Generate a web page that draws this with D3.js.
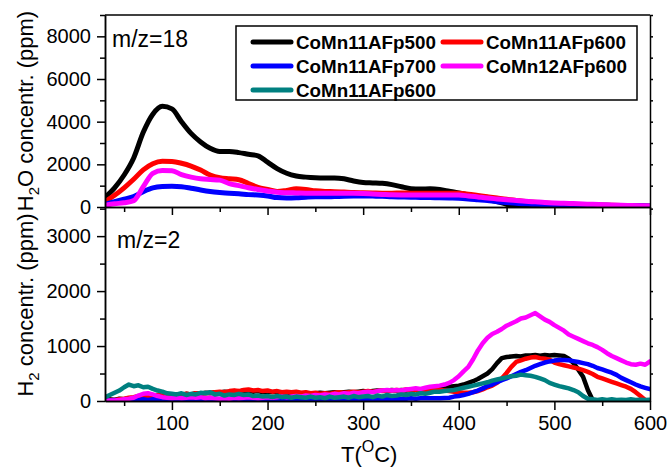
<!DOCTYPE html>
<html><head><meta charset="utf-8">
<script src="https://cdn.jsdelivr.net/npm/d3@7"></script>
<style>
html,body{margin:0;padding:0;background:#fff;}
svg{display:block;font-family:"Liberation Sans",Arial,sans-serif;}
</style></head>
<body>
<svg id="chart" width="668" height="467"></svg>
<script>
// ---------- data ----------
const seriesNames = ["CoMn11AFp500","CoMn11AFp600","CoMn11AFp700","CoMn12AFp600","CoMn11AFp600"];
const seriesColors = ["#000000","#ff0000","#0000ff","#ff00ff","#008080"];

// H2O (m/z=18), temperatures in °C
const tempTop = [30,40,50,60,70,80,90,100,110,120,130,140,150,160,170,180,190,200,210,220,230,240,250,260,270,280,290,300,310,320,330,340,350,360,370,380,390,400,410,420,430,440,450,460,470,480,490,500,510,520,530,540,550,560,570,580,590,600];
const h2oP500 = [450,900,1500,2300,3500,4350,4720,4600,4000,3450,3050,2750,2600,2600,2550,2470,2400,2100,1800,1580,1450,1400,1370,1360,1360,1320,1220,1150,1130,1110,1050,950,860,840,850,820,740,660,560,450,350,250,130,30,0,0,0,0,0,0,0,0,0,0,0,0,0,0];
const h2oP600 = [250,550,900,1300,1740,2030,2140,2130,2050,1920,1730,1500,1370,1320,1280,1100,920,820,730,780,850,820,760,730,720,700,680,670,660,650,650,660,650,650,650,640,650,640,600,540,480,420,360,310,260,220,190,160,140,120,110,100,90,80,70,60,55,50];
const h2oP700 = [130,250,370,490,720,900,960,970,950,880,800,730,680,640,620,580,560,520,440,420,430,460,480,480,490,500,510,520,510,500,480,470,460,450,440,430,420,410,380,340,300,250,210,170,150,130,120,110,100,95,90,85,80,75,70,60,55,50];
const h2o12P600 = [80,150,200,300,950,1580,1710,1700,1520,1400,1320,1290,1260,1100,1000,900,820,750,690,670,660,650,650,650,645,640,640,630,610,590,570,565,565,565,565,565,565,560,520,470,420,380,340,300,270,240,210,190,175,160,140,125,110,95,80,70,60,50];
const topSeries = [h2oP500, h2oP600, h2oP700, h2o12P600];

// H2 (m/z=2)
const tempBot = [30,35,40,45,50,55,60,65,70,75,80,85,90,95,
 100,105,110,115,120,125,130,135,140,145,150,155,160,165,170,175,180,185,190,195,
 200,205,210,215,220,225,230,235,240,245,250,255,260,265,270,275,280,285,290,295,
 300,305,310,315,320,325,330,335,340,345,350,355,360,365,370,375,380,385,390,395,
 400,405,410,415,420,425,430,435,440,445,450,455,460,465,470,475,480,485,490,495,
 500,505,510,515,520,525,530,535,540,545,550,555,560,565,570,575,580,585,590,595,600];
const h2P500 = [20,30,20,40,30,50,40,60,50,70,60,80,90,100,
 110,120,110,130,120,140,130,150,140,160,150,170,160,180,170,190,180,170,180,160,
 170,160,170,150,160,140,150,130,140,130,140,150,140,150,160,150,160,170,160,170,
 180,170,180,190,180,190,200,190,200,190,200,210,200,210,220,210,220,240,260,270,
 280,300,330,360,400,450,500,580,690,780,800,810,820,810,830,830,835,825,835,830,
 835,830,820,770,690,570,440,200,20,0,0,0,0,0,0,0,0,0,0,0,0];
const h2P600 = [10,20,20,30,40,60,70,90,100,90,100,110,100,110,
 120,110,120,130,120,140,130,140,150,160,170,160,180,190,180,200,210,190,200,180,
 190,170,180,160,170,160,170,150,160,140,150,130,140,130,150,160,150,160,170,160,
 170,180,170,180,190,180,190,200,190,210,200,210,200,210,200,210,200,190,180,170,
 160,150,150,160,180,210,250,280,330,410,510,620,710,740,770,790,800,780,770,750,
 700,670,650,630,610,590,560,530,490,440,410,380,350,320,290,260,220,160,90,20,0];
const h2P700 = [10,10,20,10,20,20,30,20,30,20,30,20,30,20,
 30,20,30,20,30,20,30,20,30,30,20,30,20,30,20,30,20,30,20,30,
 20,30,20,30,20,30,20,30,20,30,20,30,20,30,20,30,20,30,30,30,
 30,40,30,40,30,40,30,40,40,40,50,40,50,50,50,50,50,55,60,80,
 90,110,130,160,190,230,270,300,340,380,410,450,490,530,560,600,640,670,700,720,
 735,745,745,740,725,710,690,670,640,600,575,545,515,475,420,380,340,300,265,240,215];
const h2_12P600 = [0,10,10,20,30,40,60,100,130,140,120,90,70,60,
 50,60,50,60,70,60,70,50,60,50,40,50,40,60,50,60,70,60,50,60,
 70,60,70,80,70,80,90,80,100,90,110,100,120,110,130,120,140,130,150,140,
 160,170,160,180,190,200,190,200,190,210,220,230,220,240,260,270,280,300,330,380,
 450,540,620,760,920,1050,1150,1220,1260,1310,1370,1410,1450,1500,1520,1560,1600,1540,1480,1440,
 1380,1330,1280,1210,1170,1130,1090,1050,1020,980,930,870,820,780,740,700,670,660,680,660,720];
const h2P600b = [70,110,150,190,250,300,270,285,250,260,220,190,170,140,
 130,120,140,110,130,120,150,140,160,120,130,100,120,110,130,110,120,90,100,80,
 90,70,90,70,80,60,80,70,60,80,60,70,50,80,60,70,80,60,90,70,
 80,90,70,100,80,110,90,100,120,110,130,120,140,130,150,170,170,180,190,200,
 220,240,260,280,300,320,340,370,390,410,430,450,460,480,470,460,440,410,380,330,
 300,270,250,230,200,160,90,40,30,20,30,20,30,20,25,20,30,20,25,20,25];
const botSeries = [h2P500, h2P600, h2P700, h2_12P600, h2P600b];

const xTicks = [100,200,300,400,500,600];
const yTopTicks = [0,2000,4000,6000,8000];
const yBotTicks = [0,1000,2000,3000];

// ---------- layout ----------
const L = 105, R = 650, T1 = 15, B1 = 207, B2 = 401;
const svg = d3.select("#chart");
const x = d3.scaleLinear().domain([30,600]).range([L,R]);
const yTop = d3.scaleLinear().domain([0,9000]).range([B1,T1]);
const yBot = d3.scaleLinear().domain([0,3530]).range([B2,B1]);
const fmt = d3.format("d");

svg.append("defs").append("clipPath").attr("id","clipTop")
  .append("rect").attr("x",L).attr("y",T1).attr("width",R-L).attr("height",B1-T1);
svg.select("defs").append("clipPath").attr("id","clipBot")
  .append("rect").attr("x",L).attr("y",B1).attr("width",R-L).attr("height",B2-B1);

// curves
const lineTop = d3.line().x((d,i)=>x(tempTop[i])).y(d=>yTop(d)).curve(d3.curveMonotoneX);
const gTop = svg.append("g").attr("clip-path","url(#clipTop)");
topSeries.forEach((s,k)=>{
  gTop.append("path").attr("d",lineTop(s)).attr("fill","none")
    .attr("stroke",seriesColors[k]).attr("stroke-width",5)
    .attr("stroke-linejoin","round").attr("stroke-linecap","round");
});
const lineBot = d3.line().x((d,i)=>x(tempBot[i])).y(d=>yBot(d));
const gBot = svg.append("g").attr("clip-path","url(#clipBot)");
botSeries.forEach((s,k)=>{
  gBot.append("path").attr("d",lineBot(s)).attr("fill","none")
    .attr("stroke",seriesColors[k]).attr("stroke-width",4.5)
    .attr("stroke-linejoin","round").attr("stroke-linecap","round");
});

// ---------- axes ----------
const fs = "20px";
function styleAxis(g){
  g.selectAll("path.domain").attr("stroke","#000").attr("stroke-width",1.5);
  g.selectAll(".tick line").attr("stroke","#000").attr("stroke-width",1.5);
  g.selectAll(".tick text").attr("fill","#000").style("font-size",fs)
    .style("font-family","'Liberation Sans',Arial,sans-serif");
}
// top panel left
svg.append("g").attr("transform",`translate(${L},0)`)
  .call(d3.axisLeft(yTop).tickValues(yTopTicks).tickFormat(fmt).tickSize(8).tickPadding(6).tickSizeOuter(0))
  .call(styleAxis);
svg.append("g").attr("transform",`translate(${L},0)`)
  .call(d3.axisLeft(yTop).tickValues([1000,3000,5000,7000,9000]).tickSize(5).tickFormat("").tickSizeOuter(0))
  .call(styleAxis);
// bottom panel left
svg.append("g").attr("transform",`translate(${L},0)`)
  .call(d3.axisLeft(yBot).tickValues(yBotTicks).tickFormat(fmt).tickSize(8).tickPadding(6).tickSizeOuter(0))
  .call(styleAxis);
svg.append("g").attr("transform",`translate(${L},0)`)
  .call(d3.axisLeft(yBot).tickValues([500,1500,2500,3500]).tickSize(5).tickFormat("").tickSizeOuter(0))
  .call(styleAxis);
// right axes
svg.append("g").attr("transform",`translate(${R},0)`)
  .call(d3.axisRight(yTop).tickValues([1000,2000,3000,4000,5000,6000,7000,8000,9000]).tickSize(3).tickFormat("").tickSizeOuter(0))
  .call(styleAxis);
svg.append("g").attr("transform",`translate(${R},0)`)
  .call(d3.axisRight(yBot).tickValues([500,1000,1500,2000,2500,3000,3500]).tickSize(3).tickFormat("").tickSizeOuter(0))
  .call(styleAxis);
// top border
svg.append("line").attr("x1",L).attr("x2",R).attr("y1",T1).attr("y2",T1)
  .attr("stroke","#000").attr("stroke-width",1.5);
// middle x axis (ticks only)
svg.append("g").attr("transform",`translate(0,${B1})`)
  .call(d3.axisBottom(x).tickValues(xTicks).tickSize(8).tickFormat("").tickSizeOuter(0))
  .call(styleAxis);
svg.append("g").attr("transform",`translate(0,${B1})`)
  .call(d3.axisBottom(x).tickValues([50,150,250,350,450,550]).tickSize(5).tickFormat("").tickSizeOuter(0))
  .call(styleAxis);
// bottom x axis
svg.append("g").attr("transform",`translate(0,${B2})`)
  .call(d3.axisBottom(x).tickValues(xTicks).tickFormat(fmt).tickSize(9).tickPadding(6).tickSizeOuter(0))
  .call(styleAxis);
svg.append("g").attr("transform",`translate(0,${B2})`)
  .call(d3.axisBottom(x).tickValues([50,150,250,350,450,550]).tickSize(5).tickFormat("").tickSizeOuter(0))
  .call(styleAxis);

// ---------- labels ----------
svg.append("text").attr("x",112).attr("y",47).style("font-size","23px").text("m/z=18");
svg.append("text").attr("x",117).attr("y",248).style("font-size","23px").text("m/z=2");

const yl1 = svg.append("text").attr("transform","translate(33,111) rotate(-90)")
  .attr("text-anchor","middle").style("font-size","22px");
yl1.append("tspan").text("H");
yl1.append("tspan").attr("dy",6).style("font-size","15px").text("2");
yl1.append("tspan").attr("dy",-6).text("O concentr. (ppm)");

const yl2 = svg.append("text").attr("transform","translate(33,305) rotate(-90)")
  .attr("text-anchor","middle").style("font-size","22px");
yl2.append("tspan").text("H");
yl2.append("tspan").attr("dy",6).style("font-size","15px").text("2");
yl2.append("tspan").attr("dy",-6).text(" concentr. (ppm)");

const xl = svg.append("text").attr("x",341).attr("y",462).style("font-size","22px");
xl.append("tspan").text("T(");
xl.append("tspan").attr("dy",-10).style("font-size","16px").text("O");
xl.append("tspan").attr("dy",10).text("C)");

// ---------- legend ----------
const lg = svg.append("g");
lg.append("rect").attr("x",236).attr("y",26).attr("width",401).attr("height",74)
  .attr("fill","#fff").attr("stroke","#000").attr("stroke-width",1.5);
const legPos = [[253,42],[443,42],[253,66],[443,66],[253,90]];
seriesNames.forEach((n,k)=>{
  const [lx,ly] = legPos[k];
  lg.append("line").attr("x1",lx).attr("x2",lx+38).attr("y1",ly).attr("y2",ly)
    .attr("stroke",seriesColors[k]).attr("stroke-width",5).attr("stroke-linecap","round");
  lg.append("text").attr("x",lx+43).attr("y",ly+6.5).style("font-size","18.8px")
    .style("font-weight","bold").text(n);
});
</script>
</body></html>
